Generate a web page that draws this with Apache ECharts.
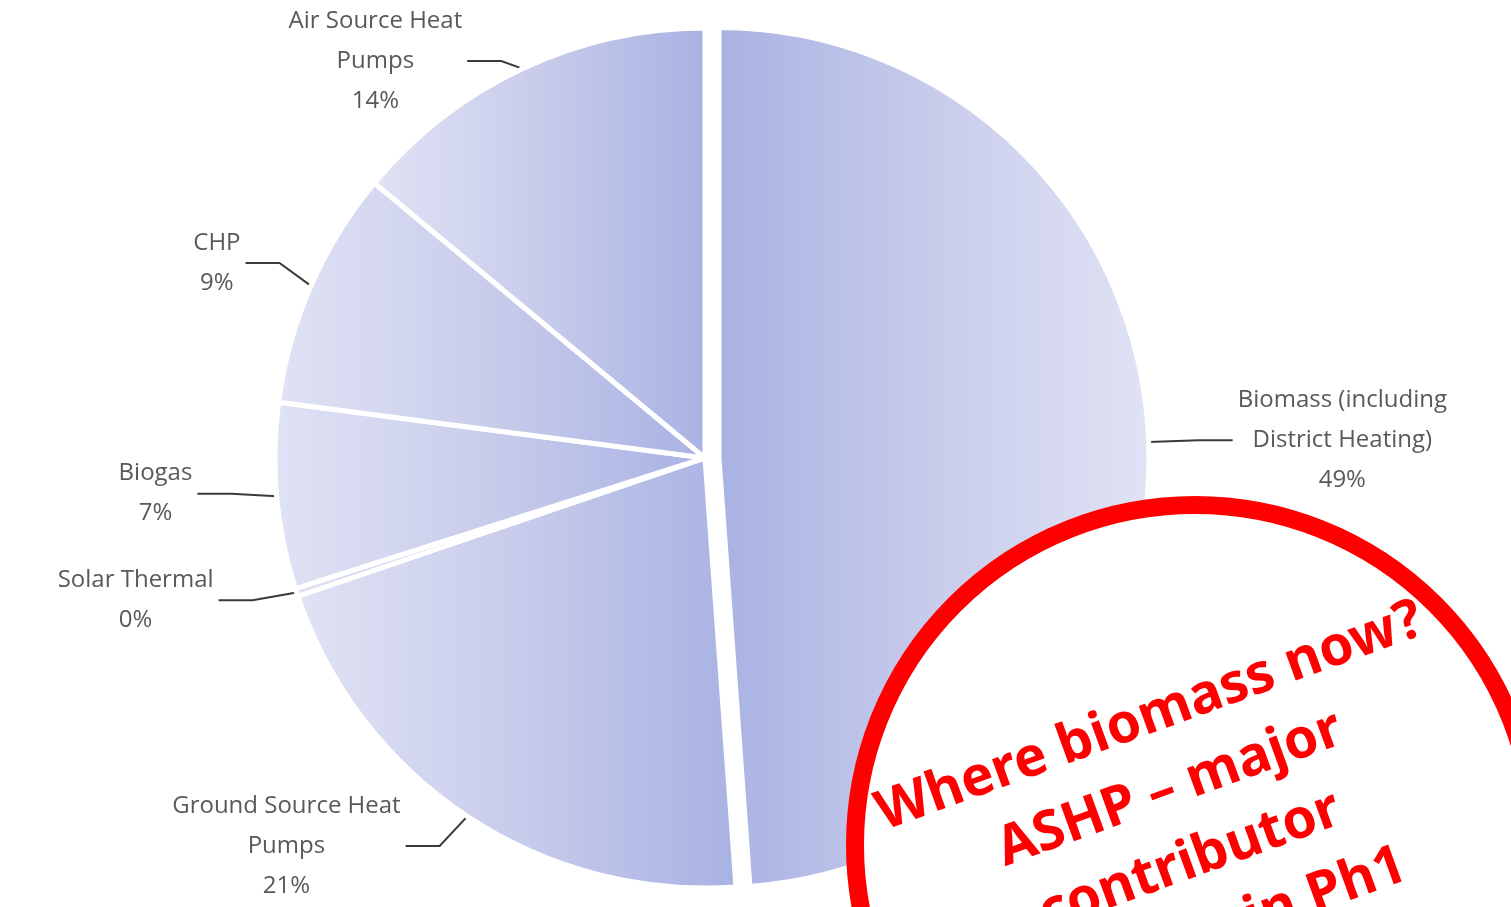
<!DOCTYPE html>
<html>
<head>
<meta charset="utf-8">
<title>Heat sources</title>
<script src="https://cdn.jsdelivr.net/npm/echarts@6/dist/echarts.min.js"></script>
<style>
html, body { margin: 0; padding: 0; background: #fff; }
#chart { width: 1511px; height: 907px; }
</style>
</head>
<body>
<div id="chart"></div>
<script>
'use strict';
// shares (clockwise from 12 o'clock)
var categories = ['Biomass (including\nDistrict Heating)', 'Ground Source Heat\nPumps', 'Solar Thermal', 'Biogas', 'CHP', 'Air Source Heat\nPumps'];
var shares = [49, 21, 0.3, 7, 9, 14];
var noteLines = ['Where biomass now?', 'ASHP \u2013 major', 'contributor', 'in Ph1'];

var dark = '#a8b2e3';
var light = '#e0e3f4';

var total = shares.reduce(function (a, b) { return a + b; }, 0);
var acc = 0;
var pieData = categories.map(function (name, i) {
	var mid = (acc + shares[i] / 2) / total;
	acc += shares[i];
	var rightSide = mid < 0.5;
	return {
		name: name,
		value: shares[i],
		selected: i === 0,
		itemStyle: {
			color: new echarts.graphic.LinearGradient(0, 0, 1, 0, [
				{ offset: 0, color: rightSide ? dark : light },
				{ offset: 0.5, color: '#c8cceb' },
				{ offset: 1, color: rightSide ? light : dark }
			])
		}
	};
});

var myChart = echarts.init(document.getElementById('chart'));
var option = {
	animation: false,
	series: [{
		type: 'pie',
		center: [705, 458],
		radius: [0, 430],
		startAngle: 90,
		clockwise: true,
		percentPrecision: 0,
		selectedMode: 'single',
		selectedOffset: 14,
		itemStyle: {
			borderColor: '#fff',
			borderWidth: 5
		},
		emphasis: { disabled: true },
		label: {
			show: true,
			position: 'outside',
			color: '#595959',
			fontFamily: 'Open Sans',
			fontSize: 24,
			lineHeight: 40,
			formatter: function (p) {
				var lines = p.name.split('\n');
				lines.push(p.percent + '%');
				return lines.map(function (l) { return '{c|' + l + '}'; }).join('\n');
			},
			rich: {
				c: {
					align: 'center',
					color: '#595959',
					fontFamily: 'Open Sans',
					fontSize: 24,
					lineHeight: 40
				}
			}
		},
		labelLine: {
			show: true,
			length: 50,
			length2: 34,
			lineStyle: { color: '#3a3a3a', width: 2 }
		},
		data: pieData
	}],
	graphic: [{
		type: 'circle',
		shape: { cx: 1195, cy: 845, r: 340 },
		style: { fill: '#fff', stroke: '#ff0000', lineWidth: 18 },
		z: 100
	}, {
		type: 'group',
		x: 1150,
		y: 717,
		rotation: 20 * Math.PI / 180,
		z: 101,
		children: noteLines.map(function (t, i) {
			return {
				type: 'text',
				z: 101,
				x: i === 3 ? 105 : -6 * i,
				y: i * 75,
				style: {
					text: t,
					fill: '#ff0000',
					fontFamily: 'Noto Sans',
					fontWeight: 'bold',
					fontSize: 55,
					align: 'center',
					verticalAlign: 'middle'
				}
			};
		})
	}]
};
myChart.setOption(option);
</script>
</body>
</html>
